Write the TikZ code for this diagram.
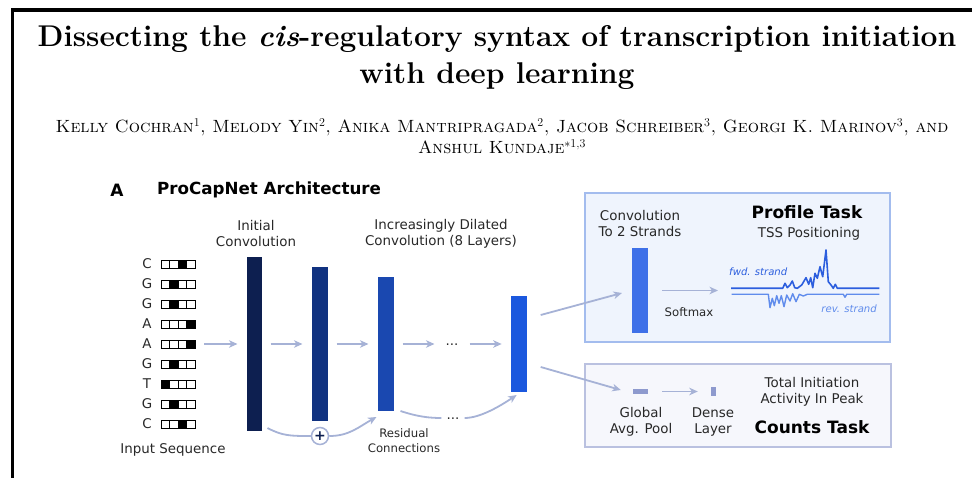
\documentclass[tikz,border=0pt]{standalone}
\usepackage{fontspec}
\newfontfamily\dvsans{DejaVu Sans}[ItalicFont={DejaVu Sans Oblique},BoldFont={DejaVu Sans Bold}]
\usetikzlibrary{chains,positioning,arrows.meta}

\definecolor{flowc}{RGB}{166,178,214}
\definecolor{layA}{RGB}{13,31,80}
\definecolor{layB}{RGB}{16,50,128}
\definecolor{layC}{RGB}{26,72,176}
\definecolor{layD}{RGB}{27,88,222}
\definecolor{layP}{RGB}{62,112,232}
\definecolor{poolc}{RGB}{142,154,206}
\definecolor{profFill}{RGB}{239,244,253}
\definecolor{profLine}{RGB}{163,188,238}
\definecolor{cntFill}{RGB}{246,247,252}
\definecolor{cntLine}{RGB}{186,193,224}
\definecolor{fwdc}{RGB}{44,94,222}
\definecolor{revc}{RGB}{96,140,236}
\definecolor{labc}{RGB}{40,40,40}

\begin{document}
\begin{tikzpicture}[x=1pt, y=-1pt,
    lab/.style={font=\dvsans\fontsize{13.4}{16}\selectfont, text=labc,
        align=center, inner sep=0pt},
    small/.style={font=\dvsans\fontsize{11.7}{15}\selectfont, text=labc,
        align=center, inner sep=0pt},
    head/.style={font=\dvsans\bfseries\fontsize{17}{20}\selectfont,
        inner sep=0pt},
    strand/.style={font=\dvsans\itshape\fontsize{10.1}{12}\selectfont,
        inner sep=0pt},
    cell/.style={draw, line width=0.7pt, minimum width=8.5pt,
        minimum height=8pt, inner sep=0pt},
    layer/.style={minimum width=16pt, inner sep=0pt, outer sep=0pt},
    dots/.style={font=\dvsans\fontsize{13.4}{16}\selectfont, text=labc,
        text height=2pt, text depth=0pt, inner sep=0pt, inner xsep=2pt},
    flow/.style={draw=flowc, line width=1.8pt,
        -{Stealth[length=8.5pt,width=7.5pt,inset=2.5pt]},
        shorten <=9pt, shorten >=9pt},
    resid/.style={draw=flowc, line width=1.8pt},
    taskbox/.style={line width=1.4pt, inner sep=0pt},
    ]
    \useasboundingbox (0,0) rectangle (972,478);
    % page frame
    \draw[line width=3.5pt] (12.5,480) -- (12.5,10) -- (974,10);

    % title and authors
    \node[font=\fontsize{30}{36}\selectfont\bfseries, inner sep=0pt, anchor=base]
        (title1) at (497,47) {Dissecting the \textit{cis}-regulatory syntax of transcription initiation};
    \node[font=\fontsize{30}{36}\selectfont\bfseries, inner sep=0pt, anchor=base]
        (title2) at (497,84) {with deep learning};
    \node[font=\fontsize{17.7}{20.5}\selectfont\scshape, inner sep=0pt, align=center, anchor=base]
        (authors) at (502,153.5) {Kelly Cochran$^1$, Melody Yin$^2$, Anika Mantripragada$^2$, Jacob Schreiber$^3$, Georgi K. Marinov$^3$, and\\
        Anshul Kundaje$^{*1,3}$};

    % panel heading
    \node[head] (panel) at (117,190) {A};
    \node[head, font=\dvsans\bfseries\fontsize{16.7}{20}\selectfont, anchor=west]
        (arch) at (157,190) {ProCapNet Architecture};

    % one-hot input
    \foreach \nt/\hot [count=\r] in {C/3,G/2,G/2,A/4,A/4,G/2,T/1,G/2,C/3}{
        \node[lab] (nt\r) at (147,244+20*\r) {\nt};
        \foreach \k in {1,...,4}{
            \ifnum\k=\hot \def\cellfill{black}\else \def\cellfill{white}\fi
            \node[cell, fill=\cellfill] (c\r-\k) at (156.75+8.5*\k,244+20*\r) {};
        }
    }
    \node[lab] (seqlab) at (173,450) {Input Sequence};

    % convolution stack
    \begin{scope}[start chain=going right, node distance=50pt,
        every node/.style={on chain}]
    \node[layer, fill=layA, minimum width=15pt, minimum height=174pt] (conv0) at (254,344) {};
    \node[layer, fill=layB, minimum height=154pt] (conv1) {};
    \node[layer, fill=layC, minimum height=134pt] (conv2) {};
    \node[dots] (mdots) {...};
    \node[layer, fill=layD, minimum height=96pt] (conv3) {};
    \end{scope}

    \draw[flow] (c5-4) -- (conv0);
    \draw[flow] (conv0) -- (conv1);
    \draw[flow] (conv1) -- (conv2);
    \draw[flow] (conv2) -- (mdots);
    \draw[flow] (mdots) -- (conv3);

    \node[lab] (initlab) at (256,234) {Initial\\Convolution};
    \node[lab] (dilab) at (441,234) {Increasingly Dilated\\Convolution (8 Layers)};

    % residual connections
    \node[circle, draw=flowc, line width=1.5pt, fill=white, minimum size=17pt,
        inner sep=0pt, text=layA, font=\dvsans\bfseries\fontsize{14}{14}\selectfont]
        (plus) at (320,436) {+};
    \draw[resid] ([xshift=6pt,yshift=3pt]conv0.south east)
        .. controls +(15,8) and +(-20,0) .. (plus.west);
    \draw[flow, shorten <=0pt, shorten >=0pt] (plus.east)
        .. controls +(20,0) and +(-18,10) .. ([xshift=-1pt,yshift=-6pt]conv2.south west);
    \node[dots] (rdots) at (453,418) {...};
    \draw[resid, shorten >=3pt] ([xshift=7pt]conv2.south east)
        .. controls +(18,6) and +(-14,0) .. (rdots.west);
    \draw[flow, shorten <=3pt, shorten >=0pt] (rdots.east)
        .. controls +(18,0) and +(-18,12) .. ([xshift=-2pt,yshift=-3pt]conv3.south);
    \node[small] (reslab) at (404,441) {Residual\\Connections};

    % profile task
    \node[taskbox, draw=profLine, fill=profFill, minimum width=305pt,
        minimum height=149pt] (profbox) at (737.5,267.5) {};
    \node[lab] (convlab) at (640,223.5) {Convolution\\To 2 Strands};
    \node[layer, fill=layP, minimum height=85pt] (profbar) at (640,290.5) {};
    \coordinate (trace0) at (731,288.3);
    \draw[flow, shorten <=14pt, shorten >=13pt] (profbar.east) -- (profbar.east -| trace0);
    \node[small] (softlab) at (689,312) {Softmax};
    \node[head] (proftask) at (807,212) {Profile Task};
    \node[lab] (tsslab) at (809,234) {TSS Positioning};
    \draw[revc, line width=1.4pt, line join=round] plot coordinates {
        (731.7,294.3) (768.3,294.3) (770,307.7) (772.3,298.3) (774.3,305.7)
        (776.7,295.7) (779,303.3) (781.3,295.7) (784,306.7) (786.7,295)
        (790,301) (792.7,293.7) (796,301.7) (799.3,294.3) (803.3,296)
        (807.3,294.3) (843.3,294.3) (845,297.3) (846.7,294.3) (879.3,294.3)};
    \draw[fwdc, line width=1.6pt, line join=round] plot coordinates {
        (trace0) (782.7,288.3) (785,283.3) (787.3,287.7) (790,285)
        (792.3,281) (794.7,287.7) (797.3,288.3) (801.7,285) (806,277.7)
        (808.7,284.3) (810.7,277.7) (812.7,287.7) (815,273.3) (817.3,278.3)
        (820,266.7) (822.7,276.7) (826,250) (828.3,281.7) (831,285)
        (833.3,288.3) (835.3,284.3) (837.3,288.3) (879.3,288.3)};
    \node[strand, text=fwdc, anchor=west] (fwdlab) at (729,272) {fwd. strand};
    \node[strand, text=revc, anchor=east] (revlab) at (877,309) {rev. strand};

    % counts task
    \node[taskbox, draw=cntLine, fill=cntFill, minimum width=306pt,
        minimum height=83pt] (cntbox) at (738,405.5) {};
    \node[fill=poolc, minimum width=15pt, minimum height=5pt, inner sep=0pt] (pool) at (640.5,391.5) {};
    \node[fill=poolc, minimum width=5pt, minimum height=9pt, inner sep=0pt] (dense) at (713.5,391.5) {};
    \draw[flow, shorten <=14pt, shorten >=13pt] (pool) -- (dense);
    \node[lab] (poollab) at (641,422) {Global\\Avg. Pool};
    \node[lab] (denselab) at (713,422) {Dense\\Layer};
    \node[lab] (totlab) at (812,392) {Total Initiation\\Activity In Peak};
    \node[head] (cnttask) at (812,427) {Counts Task};

    % heads
    \draw[flow, shorten <=0pt, shorten >=0pt] ([xshift=14pt,yshift=29pt]conv3.east)
        -- ([xshift=-10pt,yshift=-2.5pt]profbar.west);
    \draw[flow, shorten <=0pt, shorten >=0pt] ([xshift=14pt,yshift=-23pt]conv3.east)
        -- ([xshift=-12pt,yshift=1.5pt]pool.west);
\end{tikzpicture}
\end{document}
